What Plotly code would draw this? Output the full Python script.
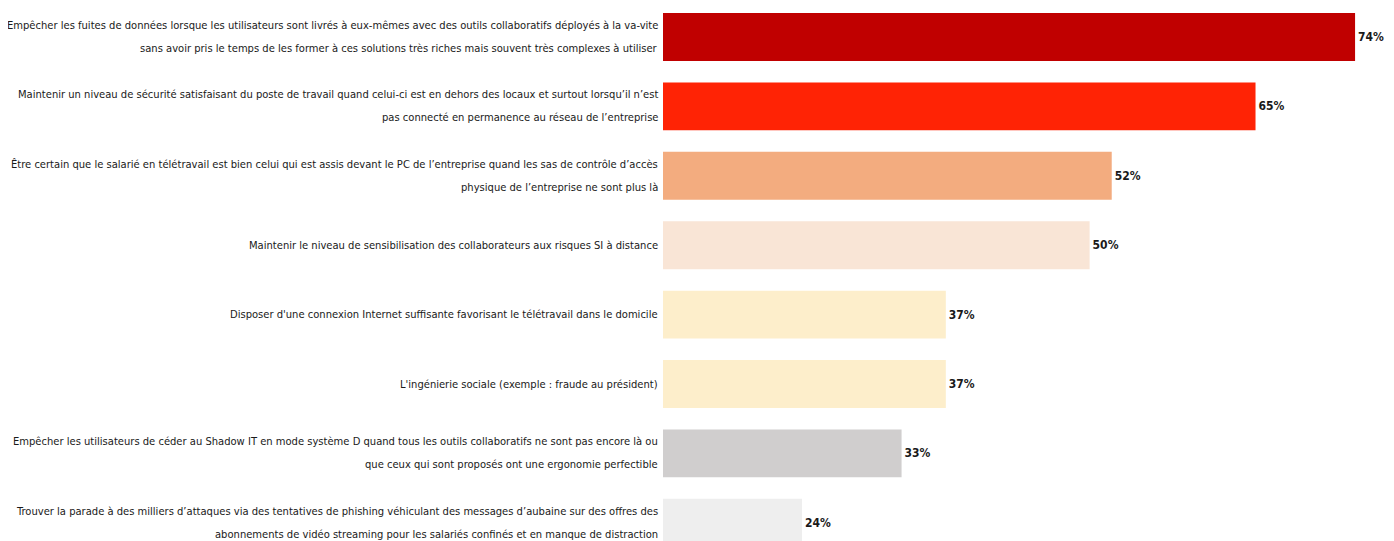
import plotly.graph_objects as go

# Category labels (each as its displayed lines)
label_lines = [
    ["Empêcher les fuites de données lorsque les utilisateurs sont livrés à eux-mêmes avec des outils collaboratifs déployés à la va-vite",
     "sans avoir pris le temps de les former à ces solutions très riches mais souvent très complexes à utiliser"],
    ["Maintenir un niveau de sécurité satisfaisant du poste de travail quand celui-ci est en dehors des locaux et surtout lorsqu’il n’est",
     "pas connecté en permanence au réseau de l’entreprise"],
    ["Être certain que le salarié en télétravail est bien celui qui est assis devant le PC de l’entreprise quand les sas de contrôle d’accès",
     "physique de l’entreprise ne sont plus là"],
    ["Maintenir le niveau de sensibilisation des collaborateurs aux risques SI à distance"],
    ["Disposer d'une connexion Internet suffisante favorisant le télétravail dans le domicile"],
    ["L'ingénierie sociale (exemple : fraude au président)"],
    ["Empêcher les utilisateurs de céder au Shadow IT en mode système D quand tous les outils collaboratifs ne sont pas encore là ou",
     "que ceux qui sont proposés ont une ergonomie perfectible"],
    ["Trouver la parade à des milliers d’attaques via des tentatives de phishing véhiculant des messages d’aubaine sur des offres des",
     "abonnements de vidéo streaming pour les salariés confinés et en manque de distraction"],
]
values = [74, 65, 52, 50, 37, 37, 33, 24]
bar_colors = ["#C00000", "#FF2305", "#F3AC7F", "#F9E5D6", "#FDEECB", "#FDEECB", "#D0CECE", "#EEEEEE"]

categories = [" ".join(l) for l in label_lines]

LABEL_FONT = "DejaVu Sans Condensed, Liberation Sans Narrow, Arial Narrow, sans-serif"

fig = go.Figure()
fig.add_trace(go.Bar(
    x=values,
    y=categories,
    orientation="h",
    marker=dict(color=bar_colors, line=dict(width=0)),
    text=[f"{v}%" for v in values],
    textposition="outside",
    textfont=dict(family=LABEL_FONT, size=12, color="#1a1a1a", weight="bold"),
    cliponaxis=False,
    hoverinfo="skip",
))

annotations = []
LINE_GAP = 23
for cat, lines in zip(categories, label_lines):
    n = len(lines)
    for k, line in enumerate(lines):
        annotations.append(dict(
            xref="paper", yref="y", x=0, y=cat,
            text=line, showarrow=False,
            xanchor="right", yanchor="middle", align="right",
            xshift=-3, yshift=((n - 1) / 2 - k) * LINE_GAP,
            font=dict(family=LABEL_FONT, size=11.1, color="#1a1a1a"),
        ))

fig.update_layout(
    width=1386, height=533,
    margin=dict(l=655, r=0, t=0, b=0),
    paper_bgcolor="white", plot_bgcolor="white",
    bargap=0.31,
    showlegend=False,
    annotations=annotations,
    xaxis=dict(range=[11.43, 77.52], visible=False, showgrid=False, zeroline=False),
    yaxis=dict(type="category", categoryorder="array", categoryarray=categories,
               range=[7.262, -0.418], showticklabels=False, showgrid=False,
               zeroline=False, showline=False, ticks=""),
)

fig.write_html("out.html")
